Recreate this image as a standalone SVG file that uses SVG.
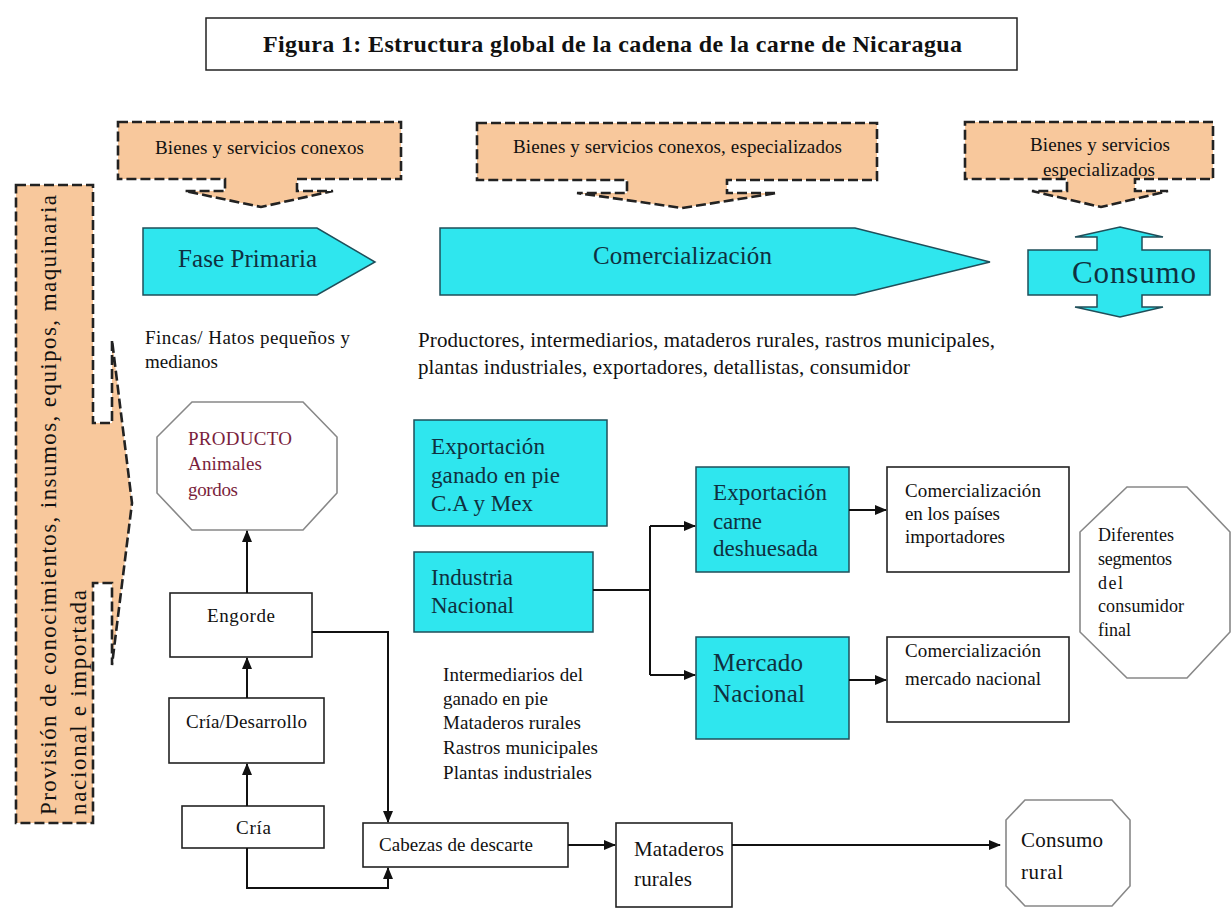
<svg xmlns="http://www.w3.org/2000/svg" width="1232" height="909" viewBox="0 0 1232 909">
<style>
text{font-family:"Liberation Serif","Times New Roman","DejaVu Serif",serif;fill:#111}
.co{fill:#f8c89c;stroke:#222;stroke-width:2.6;stroke-dasharray:10,4}
.cy{fill:#2fe6ee;stroke:#1f4f5a;stroke-width:1.5}
.cyt{fill:#0f3040}
.pr{fill:#7a1e3c}
.wb{fill:#fff;stroke:#222;stroke-width:1.6}
.oct{fill:#fff;stroke:#888;stroke-width:1.6}
.ln{fill:none;stroke:#111;stroke-width:2}
</style>
<defs>
<marker id="ah" viewBox="0 0 12 10" refX="11" refY="5" markerWidth="12" markerHeight="10" markerUnits="userSpaceOnUse" orient="auto">
<path d="M0,0 L12,5 L0,10 Z" fill="#111"/>
</marker>
</defs>
<rect width="1232" height="909" fill="#fff"/>

<g id="title">
<rect x="206" y="18" width="811" height="52" fill="#fff" stroke="#222" stroke-width="1.5"/>
<text x="263" y="52" font-size="24" font-weight="bold" textLength="699">Figura 1: Estructura global de la cadena de la carne de Nicaragua</text>
</g>

<g id="callout-left">
<path class="co" d="M118,122 H401 V179 H297 V191 H333 L261,207 L185,191 H225 V179 H118 Z"/>
<text x="155" y="154" font-size="19" textLength="209">Bienes y servicios conexos</text>
</g>
<g id="callout-mid">
<path class="co" d="M477,123 H877 V180 H727 V193 H777 L682,208 L577,193 H627 V180 H477 Z"/>
<text x="513" y="153" font-size="19" textLength="329">Bienes y servicios conexos, especializados</text>
</g>
<g id="callout-right">
<path class="co" d="M965,122 H1213 V179 H1135 V191 H1168 L1101,207 L1032,191 H1067 V179 H965 Z"/>
<text x="1030" y="151" font-size="19" textLength="140">Bienes y servicios</text>
<text x="1043" y="176" font-size="19" textLength="112">especializados</text>
</g>

<g id="callout-provision">
<path class="co" d="M16,185 H93 V423 H112 V340 L132,503 L112,665 V583 H93 V823 H16 Z"/>
<text transform="translate(56,815) rotate(-90)" font-size="23" textLength="620">Provisión de conocimientos, insumos, equipos, maquinaria</text>
<text transform="translate(86,815) rotate(-90)" font-size="23" textLength="225">nacional e importada</text>
</g>

<g id="fase-primaria">
<path class="cy" d="M143,228 H317 L375,262 L317,295 H143 Z"/>
<text class="cyt" x="178" y="267" font-size="25" textLength="139">Fase Primaria</text>
</g>
<g id="comercializacion">
<path class="cy" d="M440,228 H855 L990,262 L855,295 H440 Z"/>
<text class="cyt" x="593" y="264" font-size="25" textLength="179">Comercialización</text>
</g>
<g id="consumo">
<path class="cy" d="M1120,227 L1163,237 H1142 V250 H1210 V295 H1142 V307 H1163 L1120,317 L1075,307 H1097 V295 H1028 V250 H1097 V237 H1075 Z"/>
<text class="cyt" x="1072" y="283" font-size="31" textLength="124">Consumo</text>
</g>

<g id="txt-fincas">
<text x="145" y="344" font-size="19" textLength="205">Fincas/ Hatos  pequeños y</text>
<text x="145" y="368" font-size="19" textLength="73">medianos</text>
</g>
<g id="txt-productores">
<text x="418" y="347" font-size="21" textLength="577">Productores, intermediarios, mataderos rurales, rastros municipales,</text>
<text x="418" y="374" font-size="21" textLength="492">plantas industriales, exportadores, detallistas, consumidor</text>
</g>

<g id="producto">
<path class="oct" d="M192,402 H303 L337,437 V493 L303,530 H192 L157,493 V437 Z"/>
<text class="pr" x="188" y="445" font-size="19" textLength="104">PRODUCTO</text>
<text class="pr" x="188" y="470" font-size="19" textLength="74">Animales</text>
<text class="pr" x="188" y="496" font-size="19" textLength="50">gordos</text>
</g>

<g id="engorde">
<rect class="wb" x="170" y="593" width="142" height="64"/>
<text x="207" y="622" font-size="19" textLength="68">Engorde</text>
</g>
<g id="cria-desarrollo">
<rect class="wb" x="169" y="698" width="155" height="65"/>
<text x="186" y="728" font-size="19" textLength="121">Cría/Desarrollo</text>
</g>
<g id="cria">
<rect class="wb" x="182" y="806" width="142" height="42"/>
<text x="236" y="834" font-size="19" textLength="35">Cría</text>
</g>
<g id="cabezas">
<rect class="wb" x="363" y="823" width="205" height="44"/>
<text x="379" y="851" font-size="19" textLength="154">Cabezas de descarte</text>
</g>
<g id="mataderos">
<rect class="wb" x="616" y="823" width="116" height="84"/>
<text x="634" y="856" font-size="21" textLength="90">Mataderos</text>
<text x="634" y="886" font-size="21" textLength="58">rurales</text>
</g>
<g id="consumo-rural">
<path class="oct" d="M1025,800 H1112 L1130,820 V886 L1112,906 H1025 L1006,886 V820 Z"/>
<text x="1021" y="847" font-size="21" textLength="82">Consumo</text>
<text x="1021" y="879" font-size="21" textLength="42">rural</text>
</g>

<g id="exportacion-ganado">
<rect class="cy" x="414" y="420" width="193" height="106"/>
<text class="cyt" x="431" y="454" font-size="23" textLength="114">Exportación</text>
<text class="cyt" x="431" y="483" font-size="23" textLength="129">ganado en pie</text>
<text class="cyt" x="431" y="511" font-size="23" textLength="102">C.A y Mex</text>
</g>
<g id="industria-nacional">
<rect class="cy" x="414" y="552" width="179" height="80"/>
<text class="cyt" x="431" y="585" font-size="23" textLength="82">Industria</text>
<text class="cyt" x="431" y="613" font-size="23" textLength="83">Nacional</text>
</g>
<g id="exportacion-carne">
<rect class="cy" x="696" y="467" width="153" height="105"/>
<text class="cyt" x="713" y="500" font-size="23" textLength="114">Exportación</text>
<text class="cyt" x="713" y="529" font-size="23" textLength="49">carne</text>
<text class="cyt" x="713" y="556" font-size="23" textLength="105">deshuesada</text>
</g>
<g id="mercado-nacional">
<rect class="cy" x="696" y="637" width="153" height="102"/>
<text class="cyt" x="713" y="671" font-size="25" textLength="90">Mercado</text>
<text class="cyt" x="713" y="702" font-size="25" textLength="92">Nacional</text>
</g>

<g id="txt-intermediarios">
<text x="443" y="681" font-size="19" textLength="140">Intermediarios del</text>
<text x="443" y="705" font-size="19" textLength="105">ganado en pie</text>
<text x="443" y="729" font-size="19" textLength="138">Mataderos rurales</text>
<text x="443" y="754" font-size="19" textLength="155">Rastros municipales</text>
<text x="443" y="779" font-size="19" textLength="149">Plantas industriales</text>
</g>

<g id="com-paises">
<rect class="wb" x="887" y="467" width="182" height="105"/>
<text x="905" y="497" font-size="19" textLength="136">Comercialización</text>
<text x="905" y="520" font-size="19" textLength="95">en los países</text>
<text x="905" y="543" font-size="19" textLength="100">importadores</text>
</g>
<g id="com-nacional">
<rect class="wb" x="887" y="637" width="182" height="85"/>
<text x="905" y="657" font-size="19" textLength="136">Comercialización</text>
<text x="905" y="685" font-size="19" textLength="136">mercado nacional</text>
</g>
<g id="diferentes">
<path class="oct" d="M1127,487 H1187 L1230,532 V632 L1187,678 H1127 L1080,632 V532 Z"/>
<text x="1098" y="541" font-size="18" textLength="76">Diferentes</text>
<text x="1098" y="565" font-size="18" textLength="74">segmentos</text>
<text x="1098" y="589" font-size="18" textLength="25">del</text>
<text x="1098" y="612" font-size="18" textLength="86">consumidor</text>
<text x="1098" y="636" font-size="18" textLength="33">final</text>
</g>

<g id="connectors">
<line class="ln" x1="247" y1="593" x2="247" y2="531" marker-end="url(#ah)"/>
<line class="ln" x1="247" y1="698" x2="247" y2="658" marker-end="url(#ah)"/>
<line class="ln" x1="247" y1="806" x2="247" y2="764" marker-end="url(#ah)"/>
<polyline class="ln" points="312,632 388,632 388,822" marker-end="url(#ah)" stroke-width="1.6"/>
<polyline class="ln" points="247,848 247,888 388,888 388,868" marker-end="url(#ah)" stroke-width="1.6"/>
<line class="ln" x1="568" y1="845" x2="615" y2="845" marker-end="url(#ah)"/>
<line class="ln" x1="732" y1="845" x2="1000" y2="845" marker-end="url(#ah)"/>
<polyline class="ln" points="593,590 650,590" stroke-width="1.5"/>
<polyline class="ln" points="650,526 650,675" stroke-width="1.5"/>
<line class="ln" x1="650" y1="526" x2="695" y2="526" marker-end="url(#ah)"/>
<line class="ln" x1="650" y1="675" x2="695" y2="675" marker-end="url(#ah)"/>
<line class="ln" x1="849" y1="510" x2="886" y2="510" marker-end="url(#ah)"/>
<line class="ln" x1="849" y1="680" x2="886" y2="680" marker-end="url(#ah)"/>
</g>
</svg>
